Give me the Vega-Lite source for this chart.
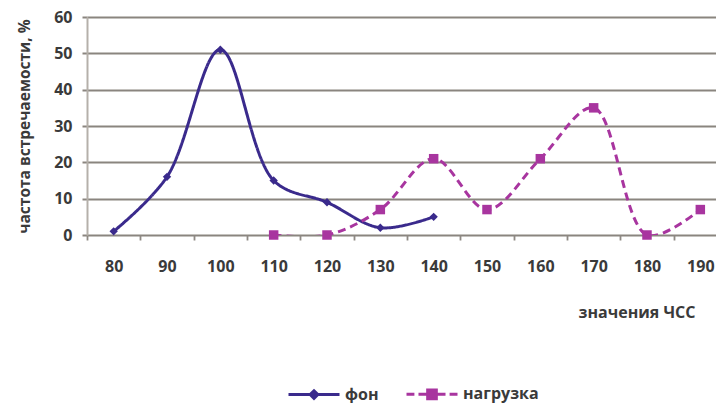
{
  "$schema": "https://vega.github.io/schema/vega-lite/v6.json",
  "width": 629,
  "height": 218,
  "autosize": {"type": "none"},
  "padding": {"left": 87, "top": 17, "right": 0, "bottom": 168},
  "background": "white",
  "config": {"view": {"stroke": null}, "font": "Open Sans"},
  "data": {
    "values": [
      {"chss": 80, "series": "фон", "value": 1},
      {"chss": 90, "series": "фон", "value": 16},
      {"chss": 100, "series": "фон", "value": 51},
      {"chss": 110, "series": "фон", "value": 15},
      {"chss": 120, "series": "фон", "value": 9},
      {"chss": 130, "series": "фон", "value": 2},
      {"chss": 140, "series": "фон", "value": 5},
      {"chss": 110, "series": "нагрузка", "value": 0},
      {"chss": 120, "series": "нагрузка", "value": 0},
      {"chss": 130, "series": "нагрузка", "value": 7},
      {"chss": 140, "series": "нагрузка", "value": 21},
      {"chss": 150, "series": "нагрузка", "value": 7},
      {"chss": 160, "series": "нагрузка", "value": 21},
      {"chss": 170, "series": "нагрузка", "value": 35},
      {"chss": 180, "series": "нагрузка", "value": 0},
      {"chss": 190, "series": "нагрузка", "value": 7}
    ]
  },
  "encoding": {
    "x": {
      "field": "chss",
      "type": "quantitative",
      "scale": {"domain": [75, 192.94], "nice": false, "zero": false},
      "axis": {
        "values": [80, 90, 100, 110, 120, 130, 140, 150, 160, 170, 180, 190],
        "grid": false,
        "domain": false,
        "tickOffset": -26.67,
        "labelOffset": 26.67,
        "tickSize": 5,
        "tickWidth": 1.8,
        "tickColor": "#8f8a84",
        "labelFont": "Open Sans",
        "labelFontSize": 16,
        "labelFontWeight": "bold",
        "labelColor": "#3a3a3a",
        "labelPadding": 18,
        "title": "значения ЧСС",
        "titleFont": "Open Sans",
        "titleFontSize": 16,
        "titleFontWeight": "bold",
        "titleColor": "#3a3a3a",
        "titleX": 608,
        "titleY": 77,
        "titleAlign": "right",
        "titleBaseline": "middle"
      }
    },
    "y": {
      "field": "value",
      "type": "quantitative",
      "scale": {"domain": [0, 60], "nice": false},
      "axis": {
        "values": [0, 10, 20, 30, 40, 50, 60],
        "grid": true,
        "gridColor": "#8a857f",
        "gridWidth": 2,
        "domainColor": "#b5b0aa",
        "domainWidth": 2,
        "tickColor": "#8a857f",
        "tickSize": 5,
        "tickWidth": 2,
        "labelFont": "Open Sans",
        "labelFontSize": 16,
        "labelFontWeight": "bold",
        "labelColor": "#3a3a3a",
        "labelPadding": 10,
        "title": "частота встречаемости, %",
        "titleFont": "Open Sans",
        "titleFontSize": 15.5,
        "titleFontWeight": "bold",
        "titleColor": "#3a3a3a",
        "titlePadding": 21
      }
    }
  },
  "layer": [
    {
      "mark": {"type": "line", "interpolate": "catmull-rom", "strokeWidth": 3, "clip": true},
      "encoding": {
        "color": {
          "field": "series",
          "type": "nominal",
          "scale": {"domain": ["фон", "нагрузка"], "range": ["#3a2a8c", "#a8359f"]},
          "legend": null
        },
        "strokeDash": {
          "field": "series",
          "type": "nominal",
          "scale": {"domain": ["фон", "нагрузка"], "range": [[1, 0], [8, 5]]},
          "legend": null
        }
      }
    },
    {
      "transform": [{"filter": "datum.series === 'фон'"}],
      "mark": {"type": "point", "shape": "diamond", "filled": true, "size": 70, "color": "#3a2a8c", "opacity": 1}
    },
    {
      "transform": [{"filter": "datum.series === 'нагрузка'"}],
      "mark": {"type": "point", "shape": "square", "filled": true, "size": 90, "color": "#a8359f", "opacity": 1}
    },
    {
      "transform": [{"filter": "datum.value < 0"}],
      "mark": {"type": "point", "filled": true, "size": 2601, "opacity": 1, "strokeWidth": 3},
      "encoding": {
        "fill": {
          "field": "series",
          "type": "nominal",
          "scale": {"domain": ["нагрузка", "фон"], "range": ["#a8359f", "#3a2a8c"]}
        },
        "stroke": {
          "field": "series",
          "type": "nominal",
          "scale": {"domain": ["нагрузка", "фон"], "range": ["#a8359f", "#3a2a8c"]}
        },
        "shape": {
          "field": "series",
          "type": "nominal",
          "scale": {
            "domain": ["нагрузка", "фон"],
            "range": [
              "M-1,0H-0.69M-0.53,0H-0.22M0.22,0H0.53M0.69,0H1M-0.17,-0.17H0.17V0.17H-0.17Z",
              "M-1,0H1M0,-0.15L0.15,0L0,0.15L-0.15,0Z"
            ]
          },
          "legend": {
            "values": ["фон", "нагрузка"],
            "orient": "none",
            "legendX": 200,
            "legendY": 350,
            "direction": "horizontal",
            "title": null,
            "padding": 0,
            "symbolSize": 2601,
            "symbolStrokeWidth": 3,
            "symbolOpacity": 1,
            "labelFont": "Open Sans",
            "labelFontSize": 16,
            "labelFontWeight": "bold",
            "labelColor": "#3a3a3a",
            "labelOffset": 4,
            "columnPadding": 21
          }
        }
      }
    }
  ]
}
